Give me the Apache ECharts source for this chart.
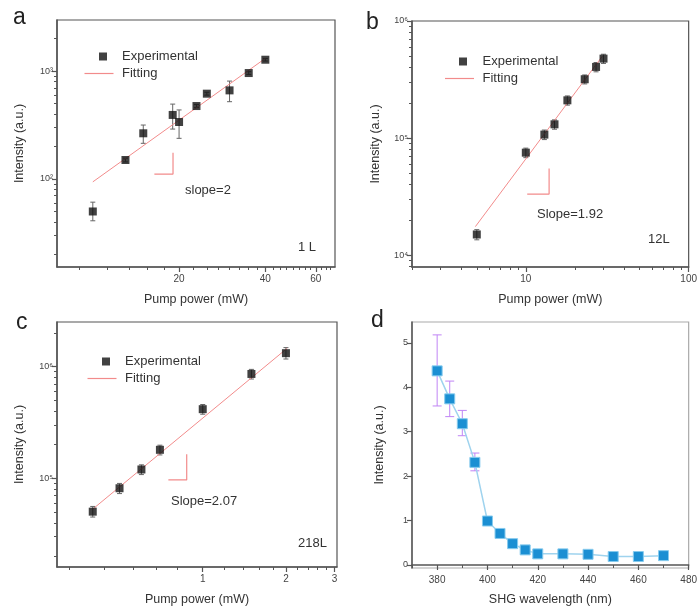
<!DOCTYPE html>
<html>
<head>
  <meta charset="UTF-8"/>
  <title></title>
  <style>
    html, body { margin: 0; padding: 0; background: #fff; }
    #main { width: 700px; height: 608px; }
  </style>
</head>
<body>
<div id="main"></div>
<script src="https://cdn.jsdelivr.net/npm/echarts@6/dist/echarts.min.js"></script>
<script type="text/javascript">
    // panel a : 1 L
    const aX = [10, 13, 15, 19, 20, 23, 25, 30, 35, 40];
    const aY = [50, 150, 265, 392, 337, 474, 617, 662, 958, 1273];
    const aLo = [41, 144, 214, 290, 238, 458, 598, 520, 930, 1238];
    const aHi = [61, 156, 316, 494, 436, 490, 636, 807, 986, 1308];
    const aFitX = [10, 40];
    const aFitY = [94, 1310];
    const aSlopeX = [16.4, 19.05, 19.05];
    const aSlopeY = [111, 111, 175];

    // panel b : 12L
    const bX = [5, 10, 13, 15, 18, 23, 27, 30];
    const bY = [15000, 75000, 107000, 131000, 210000, 318000, 405000, 477000];
    const bLo = [13500, 68000, 97000, 119000, 191000, 290000, 368000, 434000];
    const bHi = [16500, 82000, 117000, 143000, 229000, 346000, 442000, 520000];
    const bFitX = [4.9, 29.5];
    const bFitY = [17500, 500000];
    const bSlopeX = [10.2, 13.9, 13.9];
    const bSlopeY = [33200, 33200, 55000];

    // panel c : 218L
    const cX = [0.4, 0.5, 0.6, 0.7, 1, 1.5, 2];
    const cY = [50300, 81500, 120000, 180000, 416000, 860000, 1320000];
    const cLo = [45000, 73000, 108000, 162000, 375000, 775000, 1170000];
    const cHi = [56000, 90000, 132000, 198000, 458000, 945000, 1480000];
    const cFitX = [0.4, 2.02];
    const cFitY = [53000, 1460000];
    const cSlopeX = [0.751, 0.875, 0.875];
    const cSlopeY = [96800, 96800, 164000];

    // panel d : SHG wavelength
    const dX = [380, 385, 390, 395, 400, 405, 410, 415, 420, 430, 440, 450, 460, 470];
    const dY = [4.37, 3.74, 3.18, 2.31, 0.99, 0.71, 0.48, 0.34, 0.25, 0.25, 0.24, 0.19, 0.19, 0.21];
    const dLo = [3.58, 3.34, 2.91, 2.12, 0.90, 0.66, 0.44, 0.30, 0.22, 0.22, 0.21, 0.16, 0.16, 0.18];
    const dHi = [5.18, 4.14, 3.48, 2.52, 1.08, 0.76, 0.52, 0.38, 0.28, 0.28, 0.27, 0.22, 0.22, 0.24];

    // tick values
    const aXMajor = [20, 40, 60];
    const aXMinor = [9, 11.2, 13.4, 15.5, 17.7, 22.5, 25, 27.5, 30, 32.5, 35, 37.5, 42.5, 45, 47.5, 50, 52.5, 55, 57.5, 62.5, 65, 67.5];
    const aYMajor = [100, 1000];
    const aYMinor = [20, 30, 40, 50, 60, 70, 80, 90, 200, 300, 400, 500, 600, 700, 800, 900, 2000];
    const bXMajor = [10, 100];
    const bXMinor = [2, 3, 4, 5, 6, 7, 8, 9, 20, 30, 40, 50, 60, 70, 80, 90];
    const bYMajor = [1e4, 1e5, 1e6];
    const bYMinor = [8000, 9000, 2e4, 3e4, 4e4, 5e4, 6e4, 7e4, 8e4, 9e4, 2e5, 3e5, 4e5, 5e5, 6e5, 7e5, 8e5, 9e5];
    const cXMajor = [1, 2, 3];
    const cXMinor = [0.33, 0.44, 0.56, 0.68, 0.81, 1.2, 1.4, 1.6, 1.8, 2.2, 2.4, 2.6, 2.8];
    const cYMajor = [1e5, 1e6];
    const cYMinor = [2e4, 3e4, 4e4, 5e4, 6e4, 7e4, 8e4, 9e4, 2e5, 3e5, 4e5, 5e5, 6e5, 7e5, 8e5, 9e5, 2e6];
    const dXMajor = [380, 400, 420, 440, 460, 480];
    const dXMinor = [370, 390, 410, 430, 450, 470];
    const dYMajor = [0, 1, 2, 3, 4, 5];

    const FONT = 'Liberation Sans';
    const AXIS_C = '#555';
    const TEXT_C = '#444';
    const SUP = {'1': '¹', '2': '²', '3': '³', '4': '⁴', '5': '⁵', '6': '⁶'};
    const supLabel = v => '10' + SUP[String(Math.round(Math.log10(v)))];

    const zip = (xs, ys) => xs.map((x, i) => [x, ys[i]]);
    const zip3 = (xs, lo, hi) => xs.map((x, i) => [x, lo[i], hi[i]]);

    let myChart = echarts.init(document.getElementById('main'));

    // grids
    const grids = [
        {left: 57, top: 20, width: 278, height: 247},
        {left: 412, top: 21, width: 280, height: 246},
        {left: 57, top: 322, width: 280, height: 245},
        {left: 412, top: 322, width: 280, height: 246, borderColor: '#aaa'}
    ].map(g => Object.assign({show: true, borderColor: AXIS_C, borderWidth: 1.2, backgroundColor: 'transparent'}, g));

    // main axis + minor-tick axis for each side
    function axisPair(kind, gi, type, min, max, major, minor, opts) {
        const pos = kind === 'x' ? 'bottom' : 'left';
        const main = Object.assign({
            type: type, gridIndex: gi, position: pos, min: min, max: max,
            axisLine: {show: true, lineStyle: {color: AXIS_C, width: 1.5}},
            axisTick: {show: true, customValues: major, length: 5, lineStyle: {color: AXIS_C, width: 1.2}},
            axisLabel: {customValues: major, color: TEXT_C, fontFamily: FONT, fontSize: kind === 'x' ? 10 : 9,
                margin: kind === 'x' ? 7 : 4},
            splitLine: {show: false},
            nameLocation: 'middle',
            nameTextStyle: {color: '#333', fontFamily: FONT, fontSize: 12.5}
        }, opts);
        const sub = {
            type: type, gridIndex: gi, position: pos, min: min, max: max,
            axisLine: {show: false},
            axisTick: {show: !!minor, customValues: minor || [], length: 3, lineStyle: {color: AXIS_C, width: 1}},
            axisLabel: {show: false},
            splitLine: {show: false}
        };
        return [main, sub];
    }

    const xAxes = [].concat(
        axisPair('x', 0, 'log', 7.5, 70, aXMajor, aXMinor, {name: 'Pump power (mW)', nameGap: 26}),
        axisPair('x', 1, 'log', 2, 100, bXMajor, bXMinor, {name: 'Pump power (mW)', nameGap: 26}),
        axisPair('x', 2, 'log', 0.297, 3.06, cXMajor, cXMinor, {name: 'Pump power (mW)', nameGap: 26}),
        axisPair('x', 3, 'value', 370, 480, dXMajor, dXMinor, {name: 'SHG wavelength (nm)', nameGap: 25})
    );
    const yAxes = [].concat(
        axisPair('y', 0, 'log', 15.3, 2970, aYMajor, aYMinor, {name: 'Intensity (a.u.)', nameGap: 31}),
        axisPair('y', 1, 'log', 7910, 1e6, bYMajor, bYMinor, {name: 'Intensity (a.u.)', nameGap: 30}),
        axisPair('y', 2, 'log', 16070, 2.51e6, cYMajor, cYMinor, {name: 'Intensity (a.u.)', nameGap: 31}),
        axisPair('y', 3, 'value', -0.068, 5.47, dYMajor, null, {name: 'Intensity (a.u.)', nameGap: 26})
    );
    for (let i = 0; i < 3; i++) {
        yAxes[i * 2].axisLabel.formatter = supLabel;
    }

    function errRender(cap, color) {
        return function (params, api) {
            const x = api.value(0);
            const p1 = api.coord([x, api.value(1)]);
            const p2 = api.coord([x, api.value(2)]);
            const st = {stroke: color, lineWidth: 1, fill: null};
            return {
                type: 'group', children: [
                    {type: 'line', shape: {x1: p1[0], y1: p1[1], x2: p2[0], y2: p2[1]}, style: st},
                    {type: 'line', shape: {x1: p1[0] - cap, y1: p1[1], x2: p1[0] + cap, y2: p1[1]}, style: st},
                    {type: 'line', shape: {x1: p2[0] - cap, y1: p2[1], x2: p2[0] + cap, y2: p2[1]}, style: st}
                ]
            };
        };
    }

    const FIT_C = '#f28b8b';
    const series = [];
    const logPanels = [
        [aX, aY, aLo, aHi, aFitX, aFitY, aSlopeX, aSlopeY],
        [bX, bY, bLo, bHi, bFitX, bFitY, bSlopeX, bSlopeY],
        [cX, cY, cLo, cHi, cFitX, cFitY, cSlopeX, cSlopeY]
    ];
    logPanels.forEach((p, i) => {
        const ax = {xAxisIndex: i * 2, yAxisIndex: i * 2};
        series.push(Object.assign({
            type: 'custom', name: 'err' + i, renderItem: errRender(2.5, '#666'),
            data: zip3(p[0], p[2], p[3]), encode: {x: 0, y: [1, 2]}, z: 2, silent: true
        }, ax));
        series.push(Object.assign({
            type: 'line', name: 'Fitting', data: zip(p[4], p[5]), symbol: 'none',
            lineStyle: {color: FIT_C, width: 1}, itemStyle: {color: FIT_C}, z: 3
        }, ax));
        series.push(Object.assign({
            type: 'line', name: 'slope' + i, data: zip(p[6], p[7]), symbol: 'none',
            lineStyle: {color: FIT_C, width: 1.2}, z: 3
        }, ax));
        series.push(Object.assign({
            type: 'scatter', name: 'Experimental', data: zip(p[0], p[1]), symbol: 'rect', symbolSize: 8,
            itemStyle: {color: '#111'}, z: 4
        }, ax));
    });
    series.push({
        type: 'custom', name: 'errD', xAxisIndex: 6, yAxisIndex: 6, renderItem: errRender(4.5, '#c084f5'),
        data: zip3(dX, dLo, dHi), encode: {x: 0, y: [1, 2]}, z: 2, silent: true
    });
    series.push({
        type: 'line', name: 'SHG', xAxisIndex: 6, yAxisIndex: 6, data: zip(dX, dY),
        symbol: 'rect', symbolSize: 10,
        lineStyle: {color: '#9fd3ee', width: 1.5},
        itemStyle: {color: '#1b8fd3', borderColor: '#86cbee', borderWidth: 1}, z: 3
    });

    // legends
    const legends = [];
    [[99, 50, 84.5, 67, 122], [459, 55, 445, 72, 482.5], [102, 355, 87.5, 372, 125]].forEach(l => {
        legends.push({
            data: ['Experimental'], left: l[0], top: l[1], itemWidth: 8, itemHeight: 8,
            selectedMode: false, padding: 0,
            textStyle: {fontFamily: FONT, fontSize: 13, color: '#333', padding: [0, 0, 0, l[4] - l[0] - 13]}
        });
        legends.push({
            data: [{name: 'Fitting', icon: 'rect'}], left: l[2], top: l[3], itemWidth: 29, itemHeight: 1.2,
            selectedMode: false, padding: 0,
            textStyle: {fontFamily: FONT, fontSize: 13, color: '#333', padding: [0, 0, 0, l[4] - l[2] - 34]}
        });
    });

    // panel letters and notes
    const txt = (s, x, y, size) => ({
        type: 'text', left: x, top: y,
        style: {text: s, fontFamily: FONT, fontSize: size, fill: size > 15 ? '#222' : '#333'}
    });
    const graphic = [
        txt('a', 13, 6, 23), txt('b', 366, 11, 23), txt('c', 16, 311, 23), txt('d', 371, 309, 23),
        txt('slope=2', 185, 184, 13), txt('1 L', 298, 241, 13),
        txt('Slope=1.92', 537, 208, 13), txt('12L', 648, 233, 13),
        txt('Slope=2.07', 171, 495, 13), txt('218L', 298, 537, 13)
    ];

    let option = {
        animation: false,
        grid: grids,
        xAxis: xAxes,
        yAxis: yAxes,
        legend: legends,
        graphic: graphic,
        series: series
    };
    myChart.setOption(option);
</script>
</body>
</html>
